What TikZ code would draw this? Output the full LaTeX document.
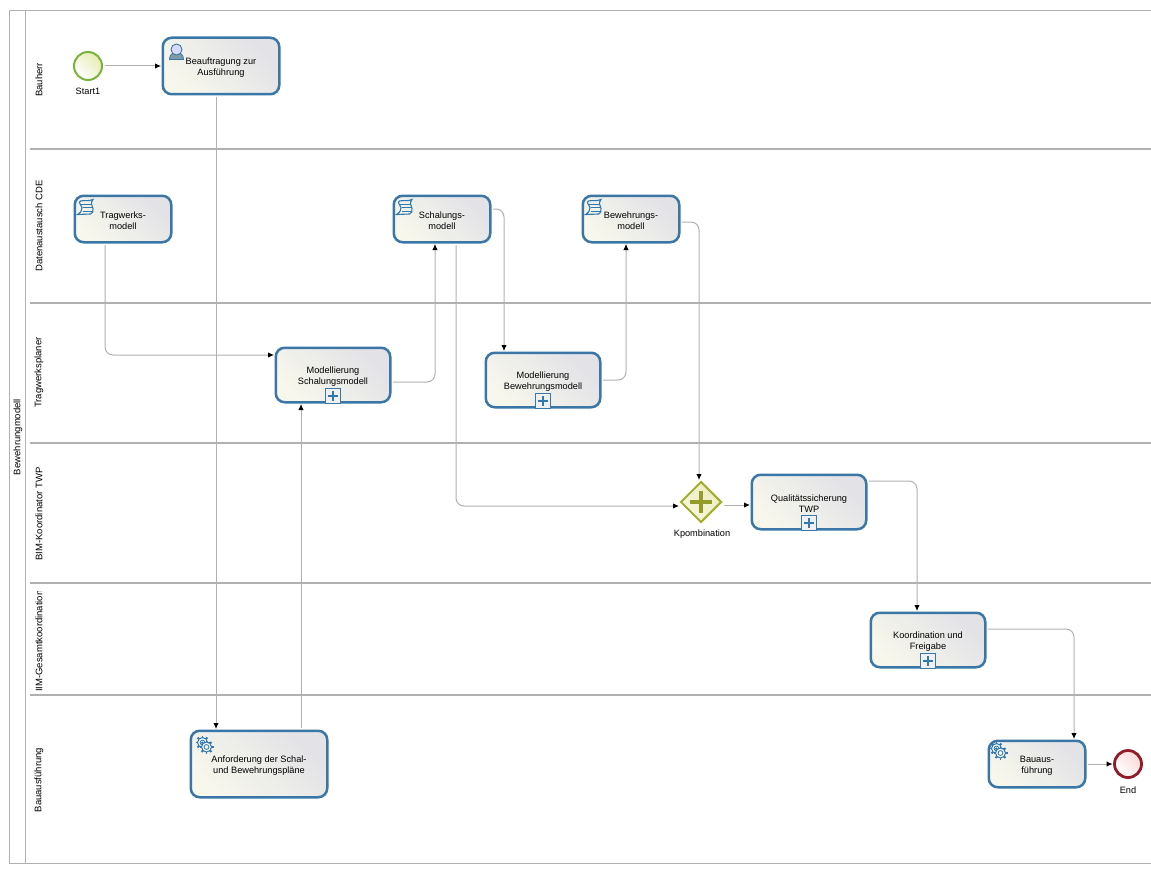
\documentclass[tikz,border=0pt]{standalone}
\usepackage{fontspec}
\setmainfont{Liberation Sans}
\usetikzlibrary{arrows.meta,shapes.geometric}
\definecolor{taskblue}{HTML}{3A76A6}
\definecolor{iconblue}{HTML}{2F78B0}
\definecolor{lanegray}{HTML}{B0B0B0}
\definecolor{taskfilla}{HTML}{F7F7EC}
\definecolor{taskfillb}{HTML}{E2E2E7}
\definecolor{startgreen}{HTML}{7AB33A}
\definecolor{startfill}{HTML}{E6ECB4}
\definecolor{endred}{HTML}{8E1D27}
\definecolor{endfill}{HTML}{F9D9D9}
\definecolor{gatewayolive}{HTML}{A3AD2E}
\definecolor{gatewayfill}{HTML}{EDEDC0}
\newcommand{\tasklift}{\rule{0pt}{10pt}}
\tikzset{
	textstyle/.style={font=\fontsize{9.2}{11}\selectfont,align=center,inner sep=0pt},
	task/.style 2 args={textstyle,rectangle,rounded corners=9,draw=taskblue,line width=2.5,
		minimum width=#1-1.5,minimum height=#2-1.5,
		left color=taskfilla,right color=taskfillb,shading angle=135},
	startevent/.style={circle,draw=startgreen,line width=2,minimum size=28,
		left color=white,right color=startfill,shading angle=135},
	endevent/.style={circle,draw=endred,line width=2.8,minimum size=27,
		left color=white,right color=endfill,shading angle=135},
	gateway/.style={diamond,draw=gatewayolive,line width=2,inner sep=0pt,minimum width=41,minimum height=41,
		left color=white!50!gatewayfill,right color=gatewayfill,shading angle=135},
	flow/.style={draw=lanegray,line width=1,rounded corners=8,shorten <=1.5,shorten >=.5,
		-{Latex[length=6,width=5.5,black]}},
	poolline/.style={draw=lanegray,line width=1},
	laneline/.style={draw=lanegray,line width=2},
	lanelabel/.style={font=\fontsize{9.5}{11}\selectfont,inner sep=0pt,rotate=90},
	iconline/.style={draw=iconblue,line width=1},
	plusicon/.pic={
		\draw[draw=taskblue,line width=1.4,fill=taskfillb!50!white] (-7.5,-15) rectangle (7.5,0);
		\draw[iconline,line width=1.2] (-5,-7.5) -- (5,-7.5) (0,-12.5) -- (0,-2.5);
	},
	gearicon/.pic={
		\foreach \gearx/\geary in {9/9,13/13.5}{
			\begin{scope}[shift={(\gearx,\geary)}]
				\foreach \a in {0,45,...,315}
					\draw[iconline,line width=1.9] (\a:4) -- (\a:7);
				\draw[iconline,fill=taskfilla] (0,0) circle (5);
				\draw[iconline,line width=.8] (0,0) circle (2.4);
			\end{scope}
		}
	},
	usericon/.pic={
		\draw[draw=taskblue,line width=.8,fill=blue!30!cyan!30!black!50!white]
			(8,23) .. controls (8,18) and (11,16) .. (15,16) .. controls (19,16) and (22,18) .. (22,23) -- cycle;
		\draw[draw=taskblue,line width=.9,fill=blue!15!white] (15,13) circle (5.5);
	},
	scripticon/.pic={
		\draw[iconline,line width=1.1] (7,6.5) .. controls (11,5.5) and (15,7) .. (19.5,5)
			.. controls (17,8) and (18,11) .. (19.5,14) .. controls (20,17) and (19,19) .. (17,19.5)
			-- (4,20) .. controls (7,18) and (9,16) .. (8.5,13) .. controls (8,10) and (4,8) .. (7,6.5) -- cycle;
		\draw[iconline,line width=1] (7,9.5) -- (17,9.5) (9,13) -- (18,13) (9,16.5) -- (18,16.5);
	}
}
\begin{document}
\begin{tikzpicture}[x=1pt,y=-1pt]
	\useasboundingbox (0,0) rectangle (1151,872);
	% pool
		\draw[poolline] (1151,10.5) -- (9.5,10.5) -- (9.5,863.5) -- (1151,863.5);
		\draw[poolline] (25.5,10.5) -- (25.5,863.5);
		\node[lanelabel] (pool) at (18,437) {Bewehrungmodell};
	% lanes
		\foreach \y in {149,303,443,583,695}{
			\draw[laneline] (30,\y) -- (1151,\y);
		}
		\foreach \y/\lanename in {80/Bauherr,226/Datenaustausch CDE,372.5/Tragwerksplaner,514/BIM-Koordinator TWP,780/Bauausführung}{
			\node[lanelabel] (lane\y) at (39,\y) {\lanename};
		}
		\begin{scope}
			\clip (30,591) rectangle (50,694);
			\node[lanelabel,anchor=west] (lanegesamt) at (39,692) {IIM-Gesamtkoordination};
		\end{scope}
	% events and gateway
		\node[startevent] (start) at (88,66) {};
		\node[textstyle] (startlabel) at (88,91) {Start1};
		\node[endevent] (end) at (1128,764) {};
		\node[textstyle] (endlabel) at (1128,790) {End};
		\node[gateway] (kombi) at (701,502) {};
		\draw[draw=gatewayolive!90!black,line width=3.4] (690,502) -- (712,502) (701,491) -- (701,513);
		\node[textstyle] (kombilabel) at (702,534) {Kpombination};
	% tasks
		\node[task={118}{58}] (auftrag) at (221,66) {\tasklift Beauftragung zur\\Ausführung};
		\node[task={98}{48}] (tragwerk) at (123,219) {\tasklift Tragwerks-\\modell};
		\node[task={98}{48}] (schalung) at (442,219) {\tasklift Schalungs-\\modell};
		\node[task={98}{48}] (bewehrung) at (631,219) {\tasklift Bewehrungs-\\modell};
		\node[task={116}{56}] (modschal) at (333,375) {\tasklift Modellierung\\Schalungsmodell};
		\node[task={116}{56}] (modbew) at (543,380) {\tasklift Modellierung\\Bewehrungsmodell};
		\node[task={116}{56}] (quali) at (809,502) {\tasklift Qualitätssicherung\\TWP};
		\node[task={116}{56}] (koord) at (928,640) {\tasklift Koordination und\\Freigabe};
		\node[task={138}{68}] (anford) at (259,764) {\tasklift Anforderung der Schal-\\und Bewehrungspläne};
		\node[task={98}{48}] (bauaus) at (1037,764) {\tasklift Bauaus-\\führung};
	% task markers
		\foreach \t in {modschal,modbew,quali,koord}{
			\pic at (\t.south) {plusicon};
		}
		\foreach \t in {tragwerk,schalung,bewehrung}{
			\pic at (\t.north west) {scripticon};
		}
		\pic at ([shift={(4,4)}]anford.north west) {gearicon};
		\pic at (bauaus.north west) {gearicon};
		\pic at (auftrag.north west) {usericon};
	% sequence flows
		\draw[flow] (start) -- (auftrag);
		\draw[flow] ([xshift=-5]auftrag.south) -- ([xshift=-43]anford.north);
		\draw[flow] ([xshift=42]anford.north) -- ([xshift=-32]modschal.south);
		\draw[flow] ([xshift=-18]tragwerk.south) |- ([yshift=20]modschal.west);
		\draw[flow] ([yshift=-7]modschal.east) -| ([xshift=-7]schalung.south);
		\draw[flow] ([yshift=10]schalung.east) -| ([xshift=-39]modbew.north);
		\draw[flow] ([xshift=14]schalung.south) |- (kombi.west |- 0,506);
		\draw[flow] ([yshift=0]modbew.east) -| ([xshift=-5]bewehrung.south);
		\draw[flow] ([yshift=-3]bewehrung.east) -| ([xshift=-2]kombi.north);
		\draw[flow] (kombi.east |- 0,505) -- (quali.west |- 0,505);
		\draw[flow] ([yshift=21]quali.east) -| ([xshift=-11]koord.north);
		\draw[flow] ([yshift=11]koord.east) -| ([xshift=37]bauaus.north);
		\draw[flow] (bauaus) -- (end);
\end{tikzpicture}
\end{document}
